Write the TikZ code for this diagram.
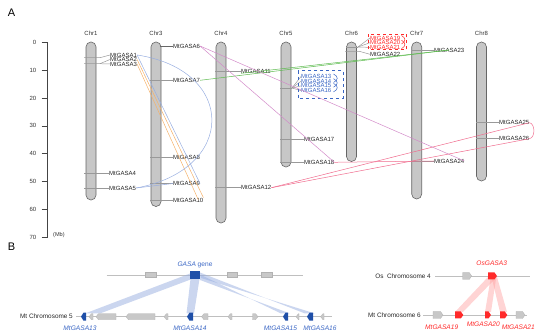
\documentclass[tikz,border=0pt]{standalone}
\usepackage{fontspec}
\setmainfont{Liberation Sans}
\definecolor{axc}{HTML}{444444}
\definecolor{lkor}{HTML}{F5B26B}
\definecolor{lkbl}{HTML}{98AEE0}
\definecolor{lkgr}{HTML}{5DBB4F}
\definecolor{lkpu}{HTML}{D38BC9}
\definecolor{lkpk}{HTML}{F06C8E}
\definecolor{cblue}{HTML}{3A66C4}
\definecolor{dblue}{HTML}{1F4FA8}
\definecolor{cred}{HTML}{FF2A2A}
\definecolor{ggray}{HTML}{C8C8C8}
\newcommand{\geneL}[5]{\path[#5] (#1,#3) -- ({#1+2.5},{#3-#4/2}) -- (#2,{#3-#4/2}) -- (#2,{#3+#4/2}) -- ({#1+2.5},{#3+#4/2}) -- cycle;}
\newcommand{\geneR}[5]{\path[#5] (#2,#3) -- ({#2-2.5},{#3-#4/2}) -- (#1,{#3-#4/2}) -- (#1,{#3+#4/2}) -- ({#2-2.5},{#3+#4/2}) -- cycle;}
\begin{document}
\begin{tikzpicture}[x=1pt,y=-1pt,
  every node/.style={inner sep=0pt},
  chrom/.style={draw=black!60, fill=black!22, line width=0.6pt, rounded corners=4.9pt, minimum width=10pt, inner sep=0pt},
  chrlab/.style={font=\fontsize{6}{7}\selectfont, text=black!80},
  glab/.style={anchor=west, font=\fontsize{6}{6}\selectfont, text=black!85},
  tickl/.style={draw=black!40, line width=0.5pt},
  lk/.style={line width=0.5pt},
  ggene/.style={fill=ggray, draw=black!30, line width=0.3pt},
  bgene/.style={fill=dblue},
  rgene/.style={fill=cred},
  bline/.style={draw=black!25, line width=0.6pt},
  bfan/.style={fill=lkbl, opacity=0.5},
  rfan/.style={fill=cred!45, opacity=0.45},
  blab/.style={font=\fontsize{6.6}{7}\selectfont\itshape},
  clab/.style={font=\fontsize{6.4}{7}\selectfont, text=black!85}]
\useasboundingbox (0,0) rectangle (550,336);

% panel letters
\node[font=\fontsize{11}{12}\selectfont] (lA) at (11.5,13) {A};
\node[font=\fontsize{11}{12}\selectfont] (lB) at (11.5,246.5) {B};

% axis
\draw[axc, line width=0.6pt] (47.5,42.5) -- (47.5,237.1);
\foreach \v [count=\i from 0] in {0,10,20,30,40,50,60,70} {
  \draw[axc, line width=0.6pt] (41.5,{42.5+27.8*\i}) -- (47.5,{42.5+27.8*\i});
  \node[anchor=east, font=\fontsize{6}{7}\selectfont, text=black!80] (t\i) at (36.5,{42.5+27.8*\i}) {\v};
}
\node[anchor=west, font=\fontsize{5.6}{7}\selectfont, text=black!80] (mb) at (53,235.5) {(Mb)};

% chromosomes
\node[chrom, minimum height=158pt] (chr1) at (91,121) {};
\node[chrom, minimum height=164.5pt] (chr3) at (156,124.25) {};
\node[chrom, minimum height=181pt] (chr4) at (221,132.5) {};
\node[chrom, minimum height=125pt] (chr5) at (286,104.5) {};
\node[chrom, minimum height=119.5pt] (chr6) at (351.5,101.75) {};
\node[chrom, minimum height=157pt] (chr7) at (416.7,120.5) {};
\node[chrom, minimum height=139pt] (chr8) at (481.5,111.5) {};
\foreach \c/\x in {1/91,3/156,4/221,5/286,6/351.5,7/416.7,8/481.5}
  \node[chrlab] (cl\c) at (\x,33) {Chr\c};

% gene labels
\node[glab] (g1) at (110,55) {MtGASA1};
\node[glab] (g2) at (110,59.5) {MtGASA2};
\node[glab] (g3) at (110,64) {MtGASA3};
\node[glab] (g4) at (109,173) {MtGASA4};
\node[glab] (g5) at (109,188) {MtGASA5};
\node[glab] (g6) at (173,46) {MtGASA6};
\node[glab] (g7) at (173,80.3) {MtGASA7};
\node[glab] (g8) at (173,157.7) {MtGASA8};
\node[glab] (g9) at (173,183.5) {MtGASA9};
\node[glab] (g10) at (173,200) {MtGASA10};
\node[glab] (g11) at (241,71) {MtGASA11};
\node[glab] (g12) at (241,187.7) {MtGASA12};
\node[glab, text=cblue] (g13) at (301,76.5) {MtGASA13};
\node[glab, text=cblue] (g14) at (301,81.2) {MtGASA14};
\node[glab, text=cblue] (g15) at (301,85.9) {MtGASA15};
\node[glab, text=cblue] (g16) at (301,90.6) {MtGASA16};
\node[glab] (g17) at (304,139) {MtGASA17};
\node[glab] (g18) at (304,162.3) {MtGASA18};
\node[glab, text=cred] (g19) at (370,38) {MtGASA19};
\node[glab, text=cred] (g20) at (370,42.7) {MtGASA20};
\node[glab, text=cred] (g21) at (370,47.4) {MtGASA21};
\node[glab] (g22) at (370,54.3) {MtGASA22};
\node[glab] (g23) at (434,50) {MtGASA23};
\node[glab] (g24) at (434,161) {MtGASA24};
\node[glab] (g25) at (499,122.7) {MtGASA25};
\node[glab] (g26) at (499,138.7) {MtGASA26};

% gene ticks
\draw[tickl] (g1.west) -- (100,57.7) -- ++(-16,0);
\draw[tickl] (g2.west) -- (100,63.7) -- ++(-16,0);
\draw[tickl] (g3.west) -- (100,63.7);
\draw[tickl] (g4.west) -- ++(-25,0);
\draw[tickl] (g5.west) -- ++(-25,0);
\draw[tickl, draw=black!60] (g6.west) -- ++(-13,0);
\foreach \g in {g7,g8,g9,g10} \draw[tickl] (\g.west) -- ++(-23,0);
\draw[tickl] (g11.west) -- ++(-26,0);
\draw[tickl] (g12.west) -- ++(-26,0);
\coordinate (fan5) at (292,88);
\foreach \g in {g13,g14,g15,g16} \draw[tickl] (fan5) -- (\g.west);
\draw[tickl] (fan5) -- ++(-12,0);
\draw[tickl] (g17.west) -- ++(-24,0);
\draw[tickl] (g18.west) -- ++(-24,0);
\coordinate (fan6) at (358,47);
\foreach \g in {g19,g20,g21} \draw[tickl] (fan6) -- (\g.west);
\draw[tickl] (fan6) -- ++(-12,0);
\draw[tickl] (g22.west) -- (360,51.5) -- ++(-15,0);
\draw[tickl] (g23.west) -- ++(-23,0);
\draw[tickl] (g24.west) -- ++(-23,0);
\draw[tickl] (g25.west) -- ++(-23,0);
\draw[tickl] (g26.west) -- ++(-23,0);

% cluster boxes
\draw[cblue, dashed, line width=0.5pt] (298,70.7) rectangle (343,98.3);
\foreach \a in {74,78.7,83.4} \draw[cblue, line width=0.5pt] (333.5,\a) .. controls (338.5,{\a+2.5}) and (338.5,{\a+6}) .. (333.5,{\a+8.5});
\draw[cred, dashed, line width=0.5pt] (368,34.3) rectangle (406.7,49.5);
\foreach \a in {35.5,40.2} \draw[cred, line width=0.5pt] (401.5,\a) .. controls (406,{\a+2.5}) and (406,{\a+6}) .. (401.5,{\a+8.5});

% syntenic links
\draw[lk, lkor] (g2.east) -- (g10.north east);
\draw[lk, lkor] (g3.east) -- ([xshift=-5pt]g10.east);
\draw[lk, lkbl] (g1.east) -- (g9.east);
\draw[lk, lkbl] (g1.east) .. controls (237,70) and (237,170) .. (g5.east);
\draw[lk, lkbl] (g5.east) -- (g9.west);
\draw[lk, lkgr] (g7.east) -- (g23.center);
\draw[lk, lkgr] (g11.south west) -- (g23.center);
\draw[lk, lkpu] (g6.east) -- (g24.east);
\draw[lk, lkpu] (g6.east) -- (g18.east);
\draw[lk, lkpk] (g18.east) -- (g24.west);
\draw[lk, lkpk] (g12.east) -- (g25.east);
\draw[lk, lkpk] (g12.east) -- (g26.east);
\draw[lk, lkpk] (g25.east) .. controls +(6,1) and +(6,-1) .. (g26.east);

% ---------- Panel B left ----------
\draw[bline] (106.7,275) -- (303,275);
\foreach \a/\b in {145/156,227/237,261/272}
  \path[ggene] (\a,272.5) rectangle (\b,277.5);

\node[clab, anchor=east] (mt5) at (73,316.7) {Mt Chromosome 5};
\draw[bline] (76,316.7) -- (331.7,316.7);

% fans
\path[bfan] (190,273.5) -- (192,279) -- (100,313.5) -- (85,313.5) -- cycle;
\path[bfan] (190.5,279) -- (199.5,279) -- (194,313.5) -- (186.5,313.5) -- cycle;
\path[bfan] (199,274) -- (200,280) -- (290,313.5) -- (281,313.5) -- cycle;
\path[bfan] (200,272.5) -- (201,278) -- (315,313.5) -- (305,313.5) -- cycle;

\node[fill=dblue, minimum width=10pt, minimum height=7.5pt] (gasa) at (195,275.2) {};
\node[font=\fontsize{6.6}{7}\selectfont, text=cblue] (gasal) at (195,265) {\textit{GASA} gene};

% genes chr5
\geneL{81}{86}{316.7}{8}{bgene}
\geneL{89}{93}{316.7}{6}{ggene}
\geneL{96}{116}{316.7}{6}{ggene}
\geneL{126}{155}{316.7}{6}{ggene}
\geneL{164}{168}{316.7}{6}{ggene}
\geneL{187}{193}{316.7}{8}{bgene}
\geneL{201.5}{208}{316.7}{6}{ggene}
\geneL{228}{232}{316.7}{6}{ggene}
\geneR{252.5}{258}{316.7}{6}{ggene}
\geneL{283}{288}{316.7}{8}{bgene}
\geneL{296}{299}{316.7}{6}{ggene}
\geneL{307}{313}{316.7}{8}{bgene}
\geneL{320.5}{324}{316.7}{6}{ggene}
\node[blab, text=cblue] (m13) at (80,328) {MtGASA13};
\node[blab, text=cblue] (m14) at (190,328) {MtGASA14};
\node[blab, text=cblue] (m15) at (280.5,328) {MtGASA15};
\node[blab, text=cblue] (m16) at (320,328) {MtGASA16};

% ---------- Panel B right ----------
\node[clab, anchor=east] (os4) at (431,276) {Os\ \ Chromosome 4};
\draw[bline] (435,276) -- (530,276);
\node[clab, anchor=east] (mt6) at (421,315) {Mt Chromosome 6};
\draw[bline] (423,315) -- (527,315);

\path[rfan] (488,277) -- (494,280) -- (463,312) -- (455,312) -- cycle;
\path[rfan] (490.5,279) -- (496,279) -- (491,312) -- (485,312) -- cycle;
\path[rfan] (492,279) -- (497,277) -- (507,312) -- (500,312) -- cycle;

\geneR{462.7}{471.7}{276}{7}{ggene}
\geneR{488}{497}{276}{7}{rgene}
\geneR{433}{443}{315}{7}{ggene}
\geneR{455}{463.3}{315}{7}{rgene}
\geneR{485}{491}{315}{7}{rgene}
\geneR{500}{507.3}{315}{7}{rgene}
\geneR{516}{525}{315}{7}{ggene}

\node[blab, text=cred] (os3) at (491.7,263.3) {OsGASA3};
\node[blab, text=cred] (m19) at (441.7,327.3) {MtGASA19};
\node[blab, text=cred] (m20) at (483.3,324.3) {MtGASA20};
\node[blab, text=cred] (m21) at (518.3,327.3) {MtGASA21};
\end{tikzpicture}
\end{document}
